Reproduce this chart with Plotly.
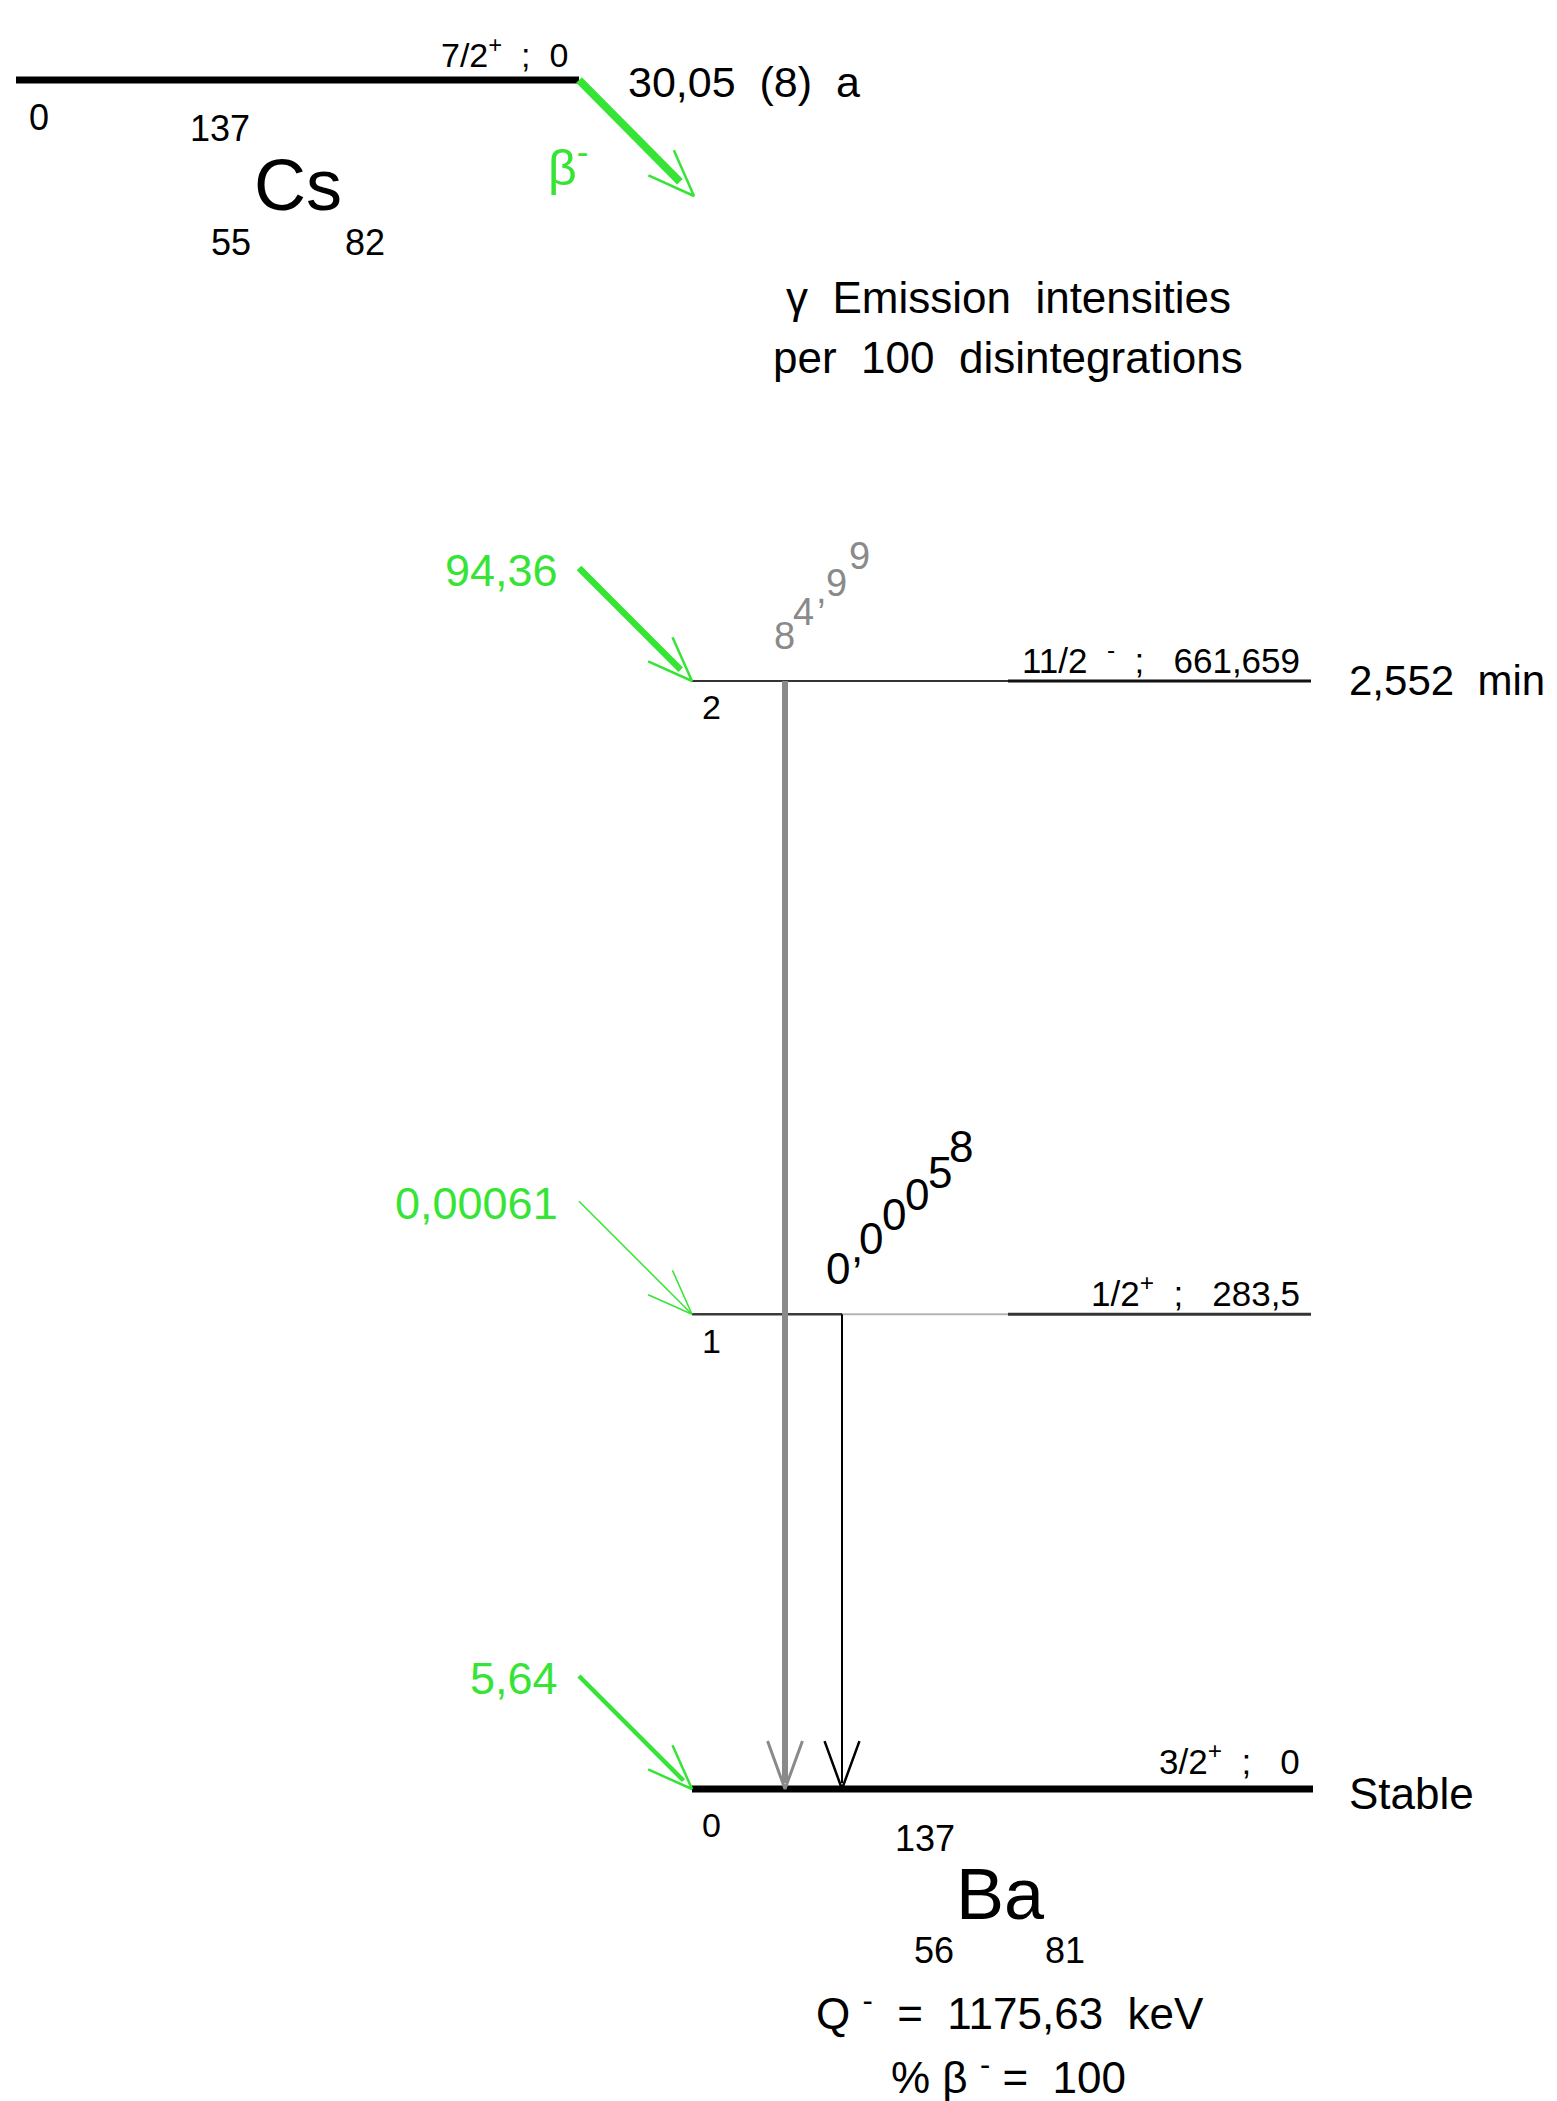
import math
import plotly.graph_objects as go

# ---------------- data ----------------
level_index = ["0", "1", "2"]
level_energy_keV = [0.0, 283.5, 661.659]
level_spin = ["3/2<sup>+</sup>", "1/2<sup>+</sup>", "11/2\u00a0\u00a0<sup>-</sup>"]
level_energy_text = ["0", "283,5", "661,659"]
beta_feeding_text = ["5,64", "0,00061", "94,36"]          # per 100 disintegrations
gamma_from_level = [2, 1]
gamma_to_level = [0, 0]
gamma_intensity_text = ["84,99", "0,00058"]

parent_symbol, parent_A, parent_Z, parent_N = "Cs", "137", "55", "82"
parent_spin_text = "7/2<sup>+</sup>\u00a0\u00a0;\u00a0\u00a00"
parent_level_text = "0"
parent_half_life = "30,05\u00a0\u00a0(8)\u00a0\u00a0a"
daughter_symbol, daughter_A, daughter_Z, daughter_N = "Ba", "137", "56", "81"
level2_half_life = "2,552\u00a0\u00a0min"
ground_state_text = "Stable"
q_value_text = "1175,63\u00a0\u00a0keV"
beta_percent_text = "100"

# ---------------- layout geometry ----------------
W, H = 1557, 2101
GROUND_PX = 1789                       # pixel row of the 0 keV level
K = (GROUND_PX - 681) / 661.659        # pixels per keV
GREEN = "#36e436"
GRAY = "#8a8a8a"
FONT = "Liberation Sans, Arial, Helvetica, sans-serif"


def ey(py):
    """pixel row -> y-axis value (keV)"""
    return (GROUND_PX - py) / K


def lvl_px(i):
    return GROUND_PX - level_energy_keV[i] * K


fig = go.Figure()


def add_line(xs, ys_px, color, width):
    fig.add_trace(go.Scatter(
        x=xs, y=[None if v is None else ey(v) for v in ys_px],
        mode="lines", line=dict(color=color, width=width),
        hoverinfo="skip", showlegend=False))


def add_open_arrow(x0, y0, x1, y1, color, shaft_w, head_w, head_len=48,
                   half_angle=21, trim=0):
    dx, dy = x1 - x0, y1 - y0
    L = math.hypot(dx, dy)
    ux, uy = dx / L, dy / L
    sx, sy = x1 - ux * trim, y1 - uy * trim
    add_line([x0, sx], [y0, sy], color, shaft_w)
    bx, by = [], []
    for s in (1, -1):
        t = math.radians(half_angle) * s
        vx, vy = -ux, -uy
        rx = vx * math.cos(t) - vy * math.sin(t)
        ry = vx * math.sin(t) + vy * math.cos(t)
        bx.append(x1 + rx * head_len)
        by.append(y1 + ry * head_len)
    add_line([bx[0], x1, bx[1]], [by[0], y1, by[1]], color, head_w)


# parent level (Cs)
CS_PX = 80
add_line([16, 579], [CS_PX, CS_PX], "black", 7)
add_open_arrow(579, CS_PX, 694, 196, GREEN, 8, 2.5, head_len=50, trim=20)

# daughter levels
LX0, LX1 = 692, 1311
LSPLIT = 1008
# level 0
add_line([LX0, LX1 + 2], [lvl_px(0), lvl_px(0)], "black", 7)
# level 1
add_line([LX0, 842], [lvl_px(1), lvl_px(1)], "#3a3a3a", 2.5)
add_line([842, LSPLIT], [lvl_px(1), lvl_px(1)], "#b4b4b4", 2)
add_line([LSPLIT, LX1], [lvl_px(1), lvl_px(1)], "#333333", 3)
# level 2
add_line([LX0, LSPLIT], [lvl_px(2), lvl_px(2)], "#333333", 2)
add_line([LSPLIT, LX1], [lvl_px(2), lvl_px(2)], "#111111", 3)

# beta feeding arrows
feed_w = {0: (4.5, 2.5, 12), 1: (1.5, 1.5, 0), 2: (6.5, 2.5, 16)}
for i in range(3):
    sw, hw, tr = feed_w[i]
    add_open_arrow(579, lvl_px(i) - 113, LX0, lvl_px(i), GREEN, sw, hw,
                   head_len=48, half_angle=21, trim=tr)

# gamma transitions
gamma_x = [785, 842]
gamma_style = [(GRAY, 6, 3), ("black", 2, 2.5)]
for g in range(2):
    c, sw, hw = gamma_style[g]
    add_open_arrow(gamma_x[g], lvl_px(gamma_from_level[g]), gamma_x[g],
                   lvl_px(gamma_to_level[g]), c, sw, hw, head_len=51,
                   half_angle=20, trim=6)

# ---------------- text ----------------
ann = []


def txt(x, ypx, text, size, color="black", xanchor="center", yanchor="middle"):
    ann.append(dict(x=x, y=ey(ypx), text=text, showarrow=False,
                    xanchor=xanchor, yanchor=yanchor,
                    font=dict(size=size, color=color, family=FONT)))


# parent
txt(39, 117, parent_level_text, 36)
txt(220, 128, parent_A, 36)
txt(298, 185, parent_symbol, 72)
txt(231, 242, parent_Z, 36)
txt(365, 242, parent_N, 36)
txt(570, 52, parent_spin_text, 34, xanchor="right")
txt(626, 82, parent_half_life, 43, xanchor="left")
txt(568, 164, "\u03b2<sup>-</sup>", 50, color=GREEN)

# header
txt(1008, 297, "\u03b3\u00a0\u00a0Emission\u00a0\u00a0intensities", 44)
txt(1008, 357, "per\u00a0\u00a0100\u00a0\u00a0disintegrations", 44)

# levels
label_dy = {0: -30, 1: -23, 2: -23}
index_dy = {0: 36, 1: 27, 2: 26}
label_sep = "\u00a0\u00a0;\u00a0\u00a0\u00a0"
for i in range(3):
    txt(1302, lvl_px(i) + label_dy[i],
        level_spin[i] + label_sep + level_energy_text[i], 35,
        xanchor="right")
    txt(711, lvl_px(i) + index_dy[i], level_index[i], 34)
    txt(560, lvl_px(i) - 111, beta_feeding_text[i], 45, color=GREEN,
        xanchor="right")

txt(1347, lvl_px(2) - 1, level2_half_life, 42, xanchor="left")
txt(1347, lvl_px(0) + 4, ground_state_text, 44, xanchor="left")

# staggered gamma intensities
stag = [
    (gamma_intensity_text[0], GRAY, 38,
     [(784, 636), (803, 612), (821, 590), (836, 583), (859, 556)]),
    (gamma_intensity_text[1], "black", 44,
     [(838, 1268), (857, 1246), (871, 1238), (894, 1214), (917, 1194),
      (940, 1172), (961, 1146)]),
]
for text, color, size, pos in stag:
    for ch, (px, py) in zip(text, pos):
        txt(px, py, ch, size, color=color)

# daughter
txt(925, 1838, daughter_A, 36)
txt(1000, 1894, daughter_symbol, 72)
txt(934, 1950, daughter_Z, 36)
txt(1065, 1950, daughter_N, 36)
txt(1010, 2010, "Q\u00a0<sup>-</sup>\u00a0\u00a0=\u00a0\u00a0" + q_value_text, 44)
txt(1008, 2074, "%\u00a0\u03b2\u00a0<sup>-</sup>\u00a0=\u00a0\u00a0" + beta_percent_text, 44)

fig.update_layout(
    width=W, height=H,
    margin=dict(l=0, r=0, t=0, b=0),
    paper_bgcolor="white", plot_bgcolor="white",
    xaxis=dict(range=[0, W], visible=False, fixedrange=True),
    yaxis=dict(range=[ey(H), ey(0)], visible=False, fixedrange=True),
    annotations=ann,
    showlegend=False,
)

fig.write_html("out.html", config={"displayModeBar": False})
